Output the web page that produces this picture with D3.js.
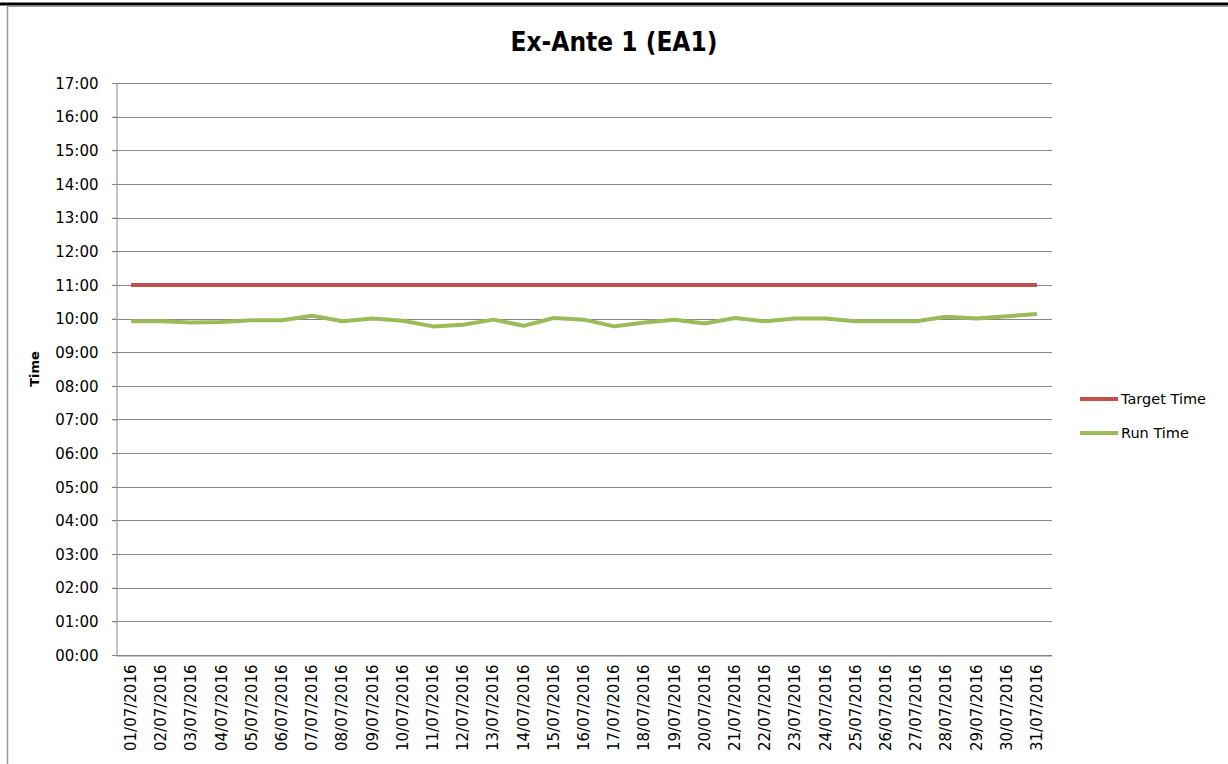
<!DOCTYPE html>
<html>
<head>
<meta charset="utf-8">
<script src="https://cdn.jsdelivr.net/npm/d3@7"></script>
<style>
	body { margin: 0; background: #fff; }
	svg { display: block; }
	text { font-family: "DejaVu Sans", sans-serif; fill: #000; }
</style>
</head>
<body>
<script>
// chart values
const dates = [
	'01/07/2016', '02/07/2016', '03/07/2016', '04/07/2016', '05/07/2016', '06/07/2016', '07/07/2016',
	'08/07/2016', '09/07/2016', '10/07/2016', '11/07/2016', '12/07/2016', '13/07/2016', '14/07/2016',
	'15/07/2016', '16/07/2016', '17/07/2016', '18/07/2016', '19/07/2016', '20/07/2016', '21/07/2016',
	'22/07/2016', '23/07/2016', '24/07/2016', '25/07/2016', '26/07/2016', '27/07/2016', '28/07/2016',
	'29/07/2016', '30/07/2016', '31/07/2016'
];
const targetTime = dates.map(() => '11:00');
const runTime = [
	'09:55', '09:55', '09:53', '09:54', '09:57', '09:57', '10:05',
	'09:55', '10:00', '09:56', '09:46', '09:49', '09:58', '09:47',
	'10:01', '09:58', '09:46', '09:53', '09:58', '09:51', '10:01',
	'09:55', '10:00', '10:00', '09:55', '09:55', '09:55', '10:03',
	'10:00', '10:04', '10:08'
];
const yTicks = d3.range(0, 18); // hours 00:00 .. 17:00
const seriesNames = ['Target Time', 'Run Time'];
const seriesColors = ['#C0504D', '#9BBB59'];

const width = 1228, height = 764;
const margin = {top: 83, left: 116, right: 176, bottom: 109};

function toHours(s) {
	const p = s.split(':');
	return +p[0] + (+p[1]) / 60;
}

const svg = d3.select('body').append('svg')
	.attr('width', width)
	.attr('height', height);

// outer frame of the chart object
svg.append('line')
	.attr('x1', 0).attr('x2', width).attr('y1', 4).attr('y2', 4)
	.attr('stroke', '#000').attr('stroke-width', 3);
svg.append('line')
	.attr('x1', 7).attr('x2', width).attr('y1', 6.5).attr('y2', 6.5)
	.attr('stroke', '#999').attr('stroke-width', 1);
svg.append('line')
	.attr('x1', 7.5).attr('x2', 7.5).attr('y1', 6).attr('y2', height)
	.attr('stroke', '#999').attr('stroke-width', 1.5);

const x = d3.scaleBand()
	.domain(dates)
	.range([margin.left, width - margin.right]);

const y = d3.scaleLinear()
	.domain([0, 17])
	.range([height - margin.bottom, margin.top]);

// gridlines
svg.append('g')
	.selectAll('line')
	.data(yTicks)
	.enter()
	.append('line')
	.attr('x1', margin.left - 4)
	.attr('x2', width - margin.right)
	.attr('y1', d => Math.round(y(d)) + 0.5)
	.attr('y2', d => Math.round(y(d)) + 0.5)
	.attr('stroke', '#868686')
	.attr('stroke-width', 1);

// y axis
const yAxis = svg.append('g')
	.attr('transform', `translate(${margin.left + 0.5},0)`)
	.call(d3.axisLeft(y)
		.tickValues(yTicks)
		.tickSize(4)
		.tickPadding(14)
		.tickFormat(d => d3.format('02d')(d) + ':00'));
yAxis.select('.domain').attr('stroke', '#868686');
yAxis.selectAll('.tick line').attr('stroke', '#868686');
yAxis.selectAll('.tick text')
	.style('font-size', '15px')
	.attr('dy', '0.35em');

// x axis
const xAxis = svg.append('g')
	.attr('transform', `translate(0,${Math.round(y(0)) + 0.5})`)
	.call(d3.axisBottom(x).tickSize(0).tickPadding(0));
xAxis.select('.domain').attr('stroke', '#868686');
xAxis.selectAll('.tick text')
	.style('font-size', '15px')
	.attr('text-anchor', 'end')
	.attr('dy', null)
	.attr('transform', 'translate(5,9) rotate(-90)');

// axis title
svg.append('text')
	.attr('transform', `translate(39,${(margin.top + height - margin.bottom) / 2}) rotate(-90)`)
	.attr('text-anchor', 'middle')
	.style('font-size', '13px')
	.style('font-weight', 'bold')
	.text('Time');

// chart title
svg.append('text')
	.attr('x', 614)
	.attr('y', 51)
	.attr('text-anchor', 'middle')
	.style('font-family', '"DejaVu Sans Condensed", "DejaVu Sans", sans-serif')
	.style('font-stretch', 'condensed')
	.style('font-size', '26px')
	.style('font-weight', 'bold')
	.text('Ex-Ante 1 (EA1)');

// series
const series = [targetTime, runTime];
const line = d3.line()
	.x((d, i) => x(dates[i]) + x.bandwidth() / 2)
	.y(d => y(toHours(d)));

svg.append('g')
	.selectAll('path')
	.data(series)
	.enter()
	.append('path')
	.attr('d', d => line(d))
	.attr('fill', 'none')
	.attr('stroke', (d, i) => seriesColors[i])
	.attr('stroke-width', 4)
	.attr('stroke-linejoin', 'round');

// legend
const legend = svg.append('g')
	.selectAll('g')
	.data(seriesNames)
	.enter()
	.append('g')
	.attr('transform', (d, i) => `translate(1080,${399 + i * 34})`);

legend.append('line')
	.attr('x1', 0).attr('x2', 38)
	.attr('stroke', (d, i) => seriesColors[i])
	.attr('stroke-width', 4);

legend.append('text')
	.attr('x', 41)
	.attr('dy', '0.35em')
	.style('font-size', '14.5px')
	.text(d => d);
</script>
</body>
</html>
